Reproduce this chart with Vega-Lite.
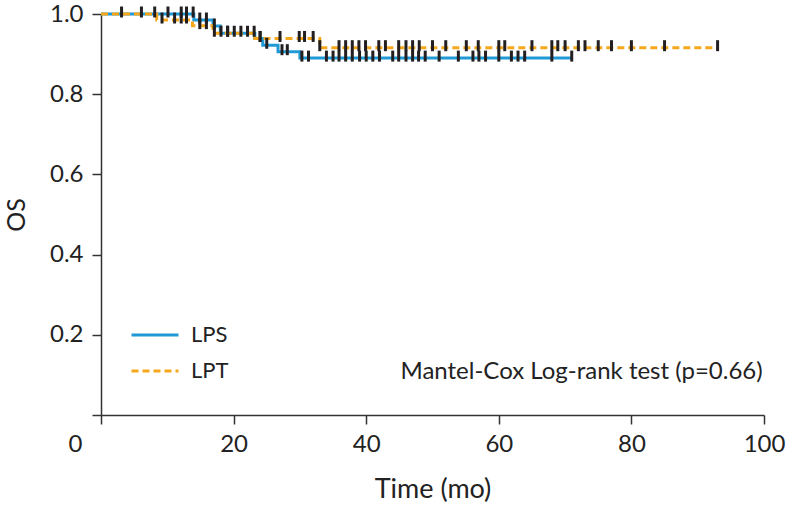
{
  "$schema": "https://vega.github.io/schema/vega-lite/v6.json",
  "width": 663,
  "height": 401,
  "autosize": {"type": "none"},
  "padding": {"left": 101, "top": 14, "right": 23, "bottom": 91},
  "background": "white",
  "config": {
    "view": {"stroke": null},
    "font": "Lato",
    "axis": {
      "domainColor": "#333333",
      "domainWidth": 1.5,
      "tickColor": "#333333",
      "tickWidth": 1.5,
      "tickSize": 9,
      "labelFont": "Lato",
      "labelFontSize": 24,
      "labelColor": "#222222",
      "titleFont": "Lato",
      "titleFontSize": 27,
      "titleFontWeight": "normal",
      "titleColor": "#222222",
      "grid": false
    }
  },
  "datasets": {
    "curves": [
      {"group": "LPS", "t": 0, "s": 1.0},
      {"group": "LPS", "t": 14.0, "s": 0.985},
      {"group": "LPS", "t": 16.9, "s": 0.97},
      {"group": "LPS", "t": 18.0, "s": 0.952},
      {"group": "LPS", "t": 23.2, "s": 0.939},
      {"group": "LPS", "t": 24.4, "s": 0.922},
      {"group": "LPS", "t": 26.7, "s": 0.906},
      {"group": "LPS", "t": 30.0, "s": 0.89},
      {"group": "LPS", "t": 71.0, "s": 0.89},
      {"group": "LPT", "t": 0, "s": 1.0},
      {"group": "LPT", "t": 8.4, "s": 0.985},
      {"group": "LPT", "t": 13.8, "s": 0.971},
      {"group": "LPT", "t": 16.9, "s": 0.952},
      {"group": "LPT", "t": 23.2, "s": 0.939},
      {"group": "LPT", "t": 33.0, "s": 0.916},
      {"group": "LPT", "t": 93.0, "s": 0.916}
    ],
    "censor": [
      {"group": "LPS", "t": 3.1, "s": 1.0},
      {"group": "LPS", "t": 8.1, "s": 1.0},
      {"group": "LPS", "t": 10.1, "s": 1.0},
      {"group": "LPS", "t": 12.1, "s": 1.0},
      {"group": "LPS", "t": 12.9, "s": 1.0},
      {"group": "LPS", "t": 13.9, "s": 1.0},
      {"group": "LPS", "t": 14.9, "s": 0.985},
      {"group": "LPS", "t": 15.9, "s": 0.985},
      {"group": "LPS", "t": 17.1, "s": 0.97},
      {"group": "LPS", "t": 19.1, "s": 0.952},
      {"group": "LPS", "t": 20.1, "s": 0.952},
      {"group": "LPS", "t": 22.1, "s": 0.952},
      {"group": "LPS", "t": 24.0, "s": 0.939},
      {"group": "LPS", "t": 25.0, "s": 0.922},
      {"group": "LPS", "t": 27.3, "s": 0.906},
      {"group": "LPS", "t": 28.1, "s": 0.906},
      {"group": "LPS", "t": 30.3, "s": 0.89},
      {"group": "LPS", "t": 31.3, "s": 0.89},
      {"group": "LPS", "t": 34.0, "s": 0.89},
      {"group": "LPS", "t": 35.0, "s": 0.89},
      {"group": "LPS", "t": 35.9, "s": 0.89},
      {"group": "LPS", "t": 36.9, "s": 0.89},
      {"group": "LPS", "t": 37.9, "s": 0.89},
      {"group": "LPS", "t": 39.0, "s": 0.89},
      {"group": "LPS", "t": 40.0, "s": 0.89},
      {"group": "LPS", "t": 41.0, "s": 0.89},
      {"group": "LPS", "t": 42.0, "s": 0.89},
      {"group": "LPS", "t": 44.0, "s": 0.89},
      {"group": "LPS", "t": 44.9, "s": 0.89},
      {"group": "LPS", "t": 46.0, "s": 0.89},
      {"group": "LPS", "t": 47.0, "s": 0.89},
      {"group": "LPS", "t": 47.9, "s": 0.89},
      {"group": "LPS", "t": 48.9, "s": 0.89},
      {"group": "LPS", "t": 51.0, "s": 0.89},
      {"group": "LPS", "t": 53.9, "s": 0.89},
      {"group": "LPS", "t": 56.1, "s": 0.89},
      {"group": "LPS", "t": 57.0, "s": 0.89},
      {"group": "LPS", "t": 58.0, "s": 0.89},
      {"group": "LPS", "t": 60.0, "s": 0.89},
      {"group": "LPS", "t": 61.9, "s": 0.89},
      {"group": "LPS", "t": 62.9, "s": 0.89},
      {"group": "LPS", "t": 63.9, "s": 0.89},
      {"group": "LPS", "t": 68.0, "s": 0.89},
      {"group": "LPS", "t": 71.0, "s": 0.89},
      {"group": "LPT", "t": 6.1, "s": 1.0},
      {"group": "LPT", "t": 9.2, "s": 0.985},
      {"group": "LPT", "t": 11.1, "s": 0.985},
      {"group": "LPT", "t": 12.1, "s": 0.985},
      {"group": "LPT", "t": 12.9, "s": 0.985},
      {"group": "LPT", "t": 14.9, "s": 0.971},
      {"group": "LPT", "t": 15.9, "s": 0.971},
      {"group": "LPT", "t": 17.1, "s": 0.952},
      {"group": "LPT", "t": 18.1, "s": 0.952},
      {"group": "LPT", "t": 19.1, "s": 0.952},
      {"group": "LPT", "t": 21.1, "s": 0.952},
      {"group": "LPT", "t": 23.1, "s": 0.952},
      {"group": "LPT", "t": 24.0, "s": 0.939},
      {"group": "LPT", "t": 27.0, "s": 0.939},
      {"group": "LPT", "t": 29.9, "s": 0.939},
      {"group": "LPT", "t": 30.7, "s": 0.939},
      {"group": "LPT", "t": 32.0, "s": 0.939},
      {"group": "LPT", "t": 33.0, "s": 0.916},
      {"group": "LPT", "t": 35.9, "s": 0.916},
      {"group": "LPT", "t": 36.9, "s": 0.916},
      {"group": "LPT", "t": 37.9, "s": 0.916},
      {"group": "LPT", "t": 38.9, "s": 0.916},
      {"group": "LPT", "t": 39.9, "s": 0.916},
      {"group": "LPT", "t": 41.9, "s": 0.916},
      {"group": "LPT", "t": 42.9, "s": 0.916},
      {"group": "LPT", "t": 44.9, "s": 0.916},
      {"group": "LPT", "t": 46.0, "s": 0.916},
      {"group": "LPT", "t": 47.0, "s": 0.916},
      {"group": "LPT", "t": 48.0, "s": 0.916},
      {"group": "LPT", "t": 50.0, "s": 0.916},
      {"group": "LPT", "t": 52.0, "s": 0.916},
      {"group": "LPT", "t": 55.1, "s": 0.916},
      {"group": "LPT", "t": 56.9, "s": 0.916},
      {"group": "LPT", "t": 60.0, "s": 0.916},
      {"group": "LPT", "t": 60.9, "s": 0.916},
      {"group": "LPT", "t": 65.0, "s": 0.916},
      {"group": "LPT", "t": 68.0, "s": 0.916},
      {"group": "LPT", "t": 68.9, "s": 0.916},
      {"group": "LPT", "t": 70.0, "s": 0.916},
      {"group": "LPT", "t": 72.0, "s": 0.916},
      {"group": "LPT", "t": 73.0, "s": 0.916},
      {"group": "LPT", "t": 75.0, "s": 0.916},
      {"group": "LPT", "t": 77.0, "s": 0.916},
      {"group": "LPT", "t": 80.0, "s": 0.916},
      {"group": "LPT", "t": 85.0, "s": 0.916},
      {"group": "LPT", "t": 93.0, "s": 0.916}
    ],
    "note": [
      {"t": 99.8, "s": 0.107, "label": "Mantel-Cox Log-rank test (p=0.66)"}
    ]
  },
  "layer": [
    {
      "data": {"name": "curves"},
      "mark": {"type": "line", "interpolate": "step-after", "strokeWidth": 3},
      "encoding": {
        "x": {
          "field": "t", "type": "quantitative",
          "scale": {"domain": [0, 100], "nice": false, "zero": true},
          "axis": {
            "title": "Time (mo)",
            "values": [0, 20, 40, 60, 80, 100],
            "labelFlush": false,
            "labelPadding": 8,
            "titlePadding": 20,
            "labelOffset": {"condition": {"test": "datum.value === 0", "value": -26}, "value": 0}
          }
        },
        "y": {
          "field": "s", "type": "quantitative",
          "scale": {"domain": [0, 1], "nice": false},
          "axis": {
            "title": "OS",
            "titleFontSize": 25,
            "values": [0, 0.2, 0.4, 0.6, 0.8, 1.0],
            "labelExpr": "datum.value === 0 ? '' : format(datum.value, '.1f')",
            "labelFlush": false,
            "labelPadding": 9,
            "titlePadding": 20
          }
        },
        "color": {
          "field": "group", "type": "nominal",
          "scale": {"domain": ["LPS", "LPT"], "range": ["#1f9ad6", "#f6a71c"]},
          "legend": {
            "title": null, "orient": "none", "legendX": 29, "legendY": 296,
            "symbolType": "stroke", "symbolSize": 2209, "symbolStrokeWidth": 3,
            "labelFont": "Lato", "labelFontSize": 22, "labelColor": "#222222", "labelOffset": 11,
            "rowPadding": -11, "padding": 0
          }
        },
        "strokeDash": {
          "field": "group", "type": "nominal",
          "scale": {"domain": ["LPS", "LPT"], "range": [[1, 0], [7, 4]]},
          "legend": {
            "title": null, "orient": "none", "legendX": 29, "legendY": 296,
            "symbolType": "stroke", "symbolSize": 2209, "symbolStrokeWidth": 3,
            "labelFont": "Lato", "labelFontSize": 22, "labelColor": "#222222", "labelOffset": 11,
            "rowPadding": -11, "padding": 0
          }
        }
      }
    },
    {
      "data": {"name": "censor"},
      "mark": {"type": "tick", "orient": "vertical", "color": "#231f20", "opacity": 1, "thickness": 3, "size": 11, "yOffset": -2},
      "encoding": {
        "x": {"field": "t", "type": "quantitative"},
        "y": {"field": "s", "type": "quantitative"}
      }
    },
    {
      "data": {"name": "note"},
      "mark": {"type": "text", "align": "right", "baseline": "middle", "font": "Lato", "fontSize": 24, "color": "#222222"},
      "encoding": {
        "x": {"field": "t", "type": "quantitative"},
        "y": {"field": "s", "type": "quantitative"},
        "text": {"field": "label"}
      }
    }
  ]
}
